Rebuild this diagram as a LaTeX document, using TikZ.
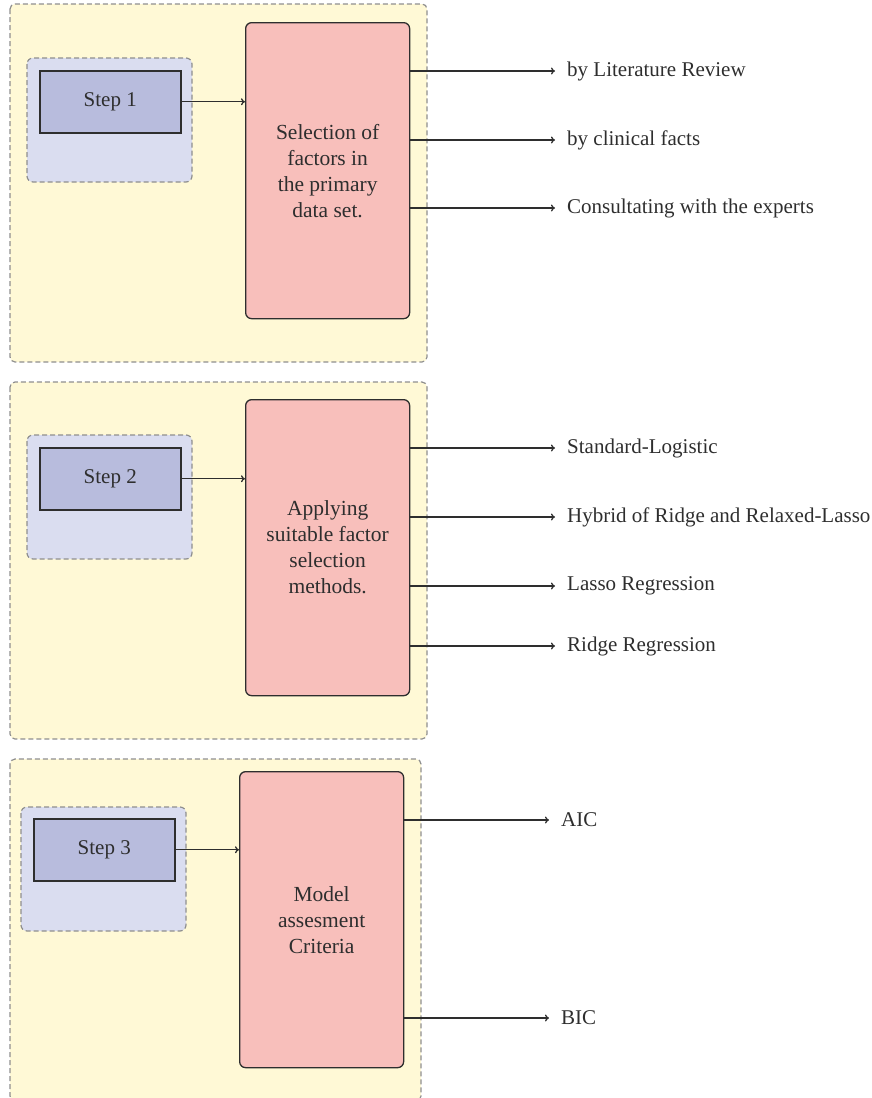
\documentclass[tikz,border=0pt]{standalone}
\usepackage{fontspec}
\setmainfont{Liberation Serif}
\usetikzlibrary{arrows.meta}
\definecolor{panelY}{HTML}{FFF9D6}
\definecolor{outerB}{HTML}{DADDF0}
\definecolor{stepB}{HTML}{B8BCDD}
\definecolor{pinkR}{HTML}{F8BFBB}
\definecolor{dashG}{HTML}{8F8F8F}
\definecolor{lineK}{HTML}{2E2E2E}
\tikzset{
  panel/.style={fill=panelY,draw=dashG,dash pattern=on 5pt off 3pt,rounded corners=5pt,line width=1.2pt},
  outerbox/.style={fill=outerB,draw=dashG,dash pattern=on 5pt off 3pt,rounded corners=6pt,line width=1.2pt},
  stepbox/.style={fill=stepB,draw=lineK,line width=1.5pt,minimum width=141pt,minimum height=62pt,anchor=north west,font=\fontsize{21}{24}\selectfont,text=lineK},
  pinkbox/.style={fill=pinkR,draw=lineK,rounded corners=6pt,line width=1.3pt,minimum width=164pt,minimum height=296pt,anchor=north west},
  conn/.style={draw=lineK,line width=1.3pt,-{To[length=4pt,width=7pt]}},
  outlabel/.style={anchor=west,inner xsep=12pt,inner ysep=0pt,font=\fontsize{21}{24}\selectfont,text=lineK},
  boxtext/.style={font=\fontsize{21.5}{26}\selectfont,text=lineK,align=center}
}
\begin{document}
\begin{tikzpicture}[x=1pt,y=-1pt]
\useasboundingbox (0,0) rectangle (872,1098);
% Panel 1
\draw[panel] (10,4) rectangle (427,362);
\draw[outerbox] (27,58) rectangle (192,182);
\node[stepbox] (s1) at (39,70) {Step 1};
\node[pinkbox] (p1) at (245,22) {};
\node[boxtext] at (p1.center) {Selection of\\factors in\\the primary\\data set.};
\draw[conn] (s1.east) -- (s1.east -| p1.west);
\node[outlabel] (a1) at (555,71) {by Literature Review};
\node[outlabel] (a2) at (555,140) {by clinical facts};
\node[outlabel] (a3) at (555,208) {Consultating with the experts};
\foreach \n in {a1,a2,a3} \draw[conn] (\n.west -| p1.east) -- (\n.west);
% Panel 2
\draw[panel] (10,382) rectangle (427,739);
\draw[outerbox] (27,435) rectangle (192,559);
\node[stepbox] (s2) at (39,447) {Step 2};
\node[pinkbox] (p2) at (245,399) {};
\node[boxtext] at (p2.center) {Applying\\suitable factor\\selection\\methods.};
\draw[conn] (s2.east) -- (s2.east -| p2.west);
\node[outlabel] (b1) at (555,448) {Standard-Logistic};
\node[outlabel] (b2) at (555,517) {Hybrid of Ridge and Relaxed-Lasso};
\node[outlabel] (b3) at (555,586) {Lasso Regression};
\node[outlabel] (b4) at (555,646) {Ridge Regression};
\foreach \n in {b1,b2,b3,b4} \draw[conn] (\n.west -| p2.east) -- (\n.west);
% Panel 3
\draw[panel] (10,759) rectangle (421,1101);
\draw[outerbox] (21,807) rectangle (186,931);
\node[stepbox] (s3) at (33,818) {Step 3};
\node[pinkbox] (p3) at (239,771) {};
\node[boxtext] at (p3.center) {Model\\assesment\\Criteria};
\draw[conn] (s3.east) -- (s3.east -| p3.west);
\node[outlabel] (c1) at (549,820) {AIC};
\node[outlabel] (c2) at (549,1018) {BIC};
\foreach \n in {c1,c2} \draw[conn] (\n.west -| p3.east) -- (\n.west);
\end{tikzpicture}
\end{document}
